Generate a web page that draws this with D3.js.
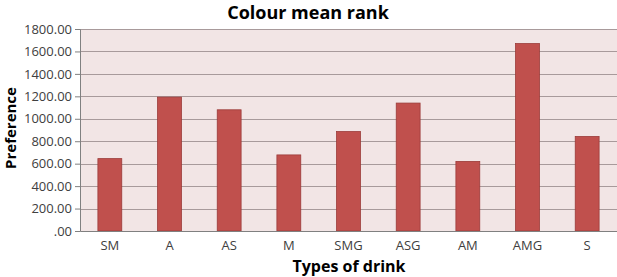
<!DOCTYPE html>
<html>
<head>
<meta charset="utf-8">
<script src="https://cdn.jsdelivr.net/npm/d3@7"></script>
<style>
  body { margin: 0; background: #fff; }
  svg text { font-family: "Open Sans", "Noto Sans", sans-serif; }
</style>
</head>
<body>
<div id="chart"></div>
<script>
// values
const drinks = ['SM', 'A', 'AS', 'M', 'SMG', 'ASG', 'AM', 'AMG', 'S'];
const meanRank = [645, 1193, 1080, 678, 886, 1140, 620, 1670, 842];
const yTicks = [0, 200, 400, 600, 800, 1000, 1200, 1400, 1600, 1800];

const width = 617, height = 277;
const margin = { top: 29, right: 0, bottom: 46, left: 80 };
const innerW = width - margin.left - margin.right;
const innerH = height - margin.top - margin.bottom;

const svg = d3.select('#chart').append('svg')
  .attr('width', width)
  .attr('height', height);

const chart = svg.append('g')
  .attr('transform', `translate(${margin.left},${margin.top})`);

const x = d3.scaleBand()
  .domain(drinks)
  .range([0, innerW])
  .paddingInner(0.6)
  .paddingOuter(0.3);

const y = d3.scaleLinear()
  .domain([0, 1800])
  .range([innerH, 0]);

// plot background
chart.append('rect')
  .attr('width', innerW)
  .attr('height', innerH)
  .attr('fill', '#f2e5e5');

// gridlines
chart.selectAll('.grid')
  .data(yTicks.filter(d => d > 0))
  .join('line')
  .attr('class', 'grid')
  .attr('x1', 0)
  .attr('x2', innerW)
  .attr('y1', d => Math.round(y(d)) + 0.5)
  .attr('y2', d => Math.round(y(d)) + 0.5)
  .attr('stroke', '#a89a9b')
  .attr('stroke-width', 1);

// bars
chart.selectAll('.bar')
  .data(drinks.map((d, i) => ({ name: d, value: meanRank[i] })))
  .join('rect')
  .attr('class', 'bar')
  .attr('x', d => x(d.name))
  .attr('y', d => y(d.value))
  .attr('width', x.bandwidth())
  .attr('height', d => innerH - y(d.value))
  .attr('fill', '#c0504d')
  .attr('stroke', '#9b3b39')
  .attr('stroke-width', 0.8);

// y axis
const yAxis = chart.append('g')
  .call(d3.axisLeft(y)
    .tickValues(yTicks)
    .tickSize(5)
    .tickFormat(d => d === 0 ? '.00' : d.toFixed(2)));

yAxis.select('.domain').attr('stroke', '#808080');
yAxis.selectAll('.tick line').attr('stroke', '#808080');
yAxis.selectAll('.tick text')
  .attr('x', -8)
  .attr('fill', '#404040')
  .style('font-size', '13px');

// x axis
const xAxis = chart.append('g')
  .attr('transform', `translate(0,${innerH})`)
  .call(d3.axisBottom(x).tickSize(0).tickPadding(10));

xAxis.select('.domain').attr('stroke', '#808080');
xAxis.selectAll('.tick text')
  .attr('fill', '#404040')
  .style('font-size', '13px');

// title
svg.append('text')
  .attr('x', 308)
  .attr('y', 19)
  .attr('text-anchor', 'middle')
  .style('font-size', '18px')
  .style('font-weight', 'bold')
  .text('Colour mean rank');

// axis titles
svg.append('text')
  .attr('transform', 'translate(16,128) rotate(-90)')
  .attr('text-anchor', 'middle')
  .style('font-size', '15px')
  .style('font-weight', 'bold')
  .text('Preference');

svg.append('text')
  .attr('x', 349)
  .attr('y', 272)
  .attr('text-anchor', 'middle')
  .style('font-size', '16px')
  .style('font-weight', 'bold')
  .text('Types of drink');
</script>
</body>
</html>
